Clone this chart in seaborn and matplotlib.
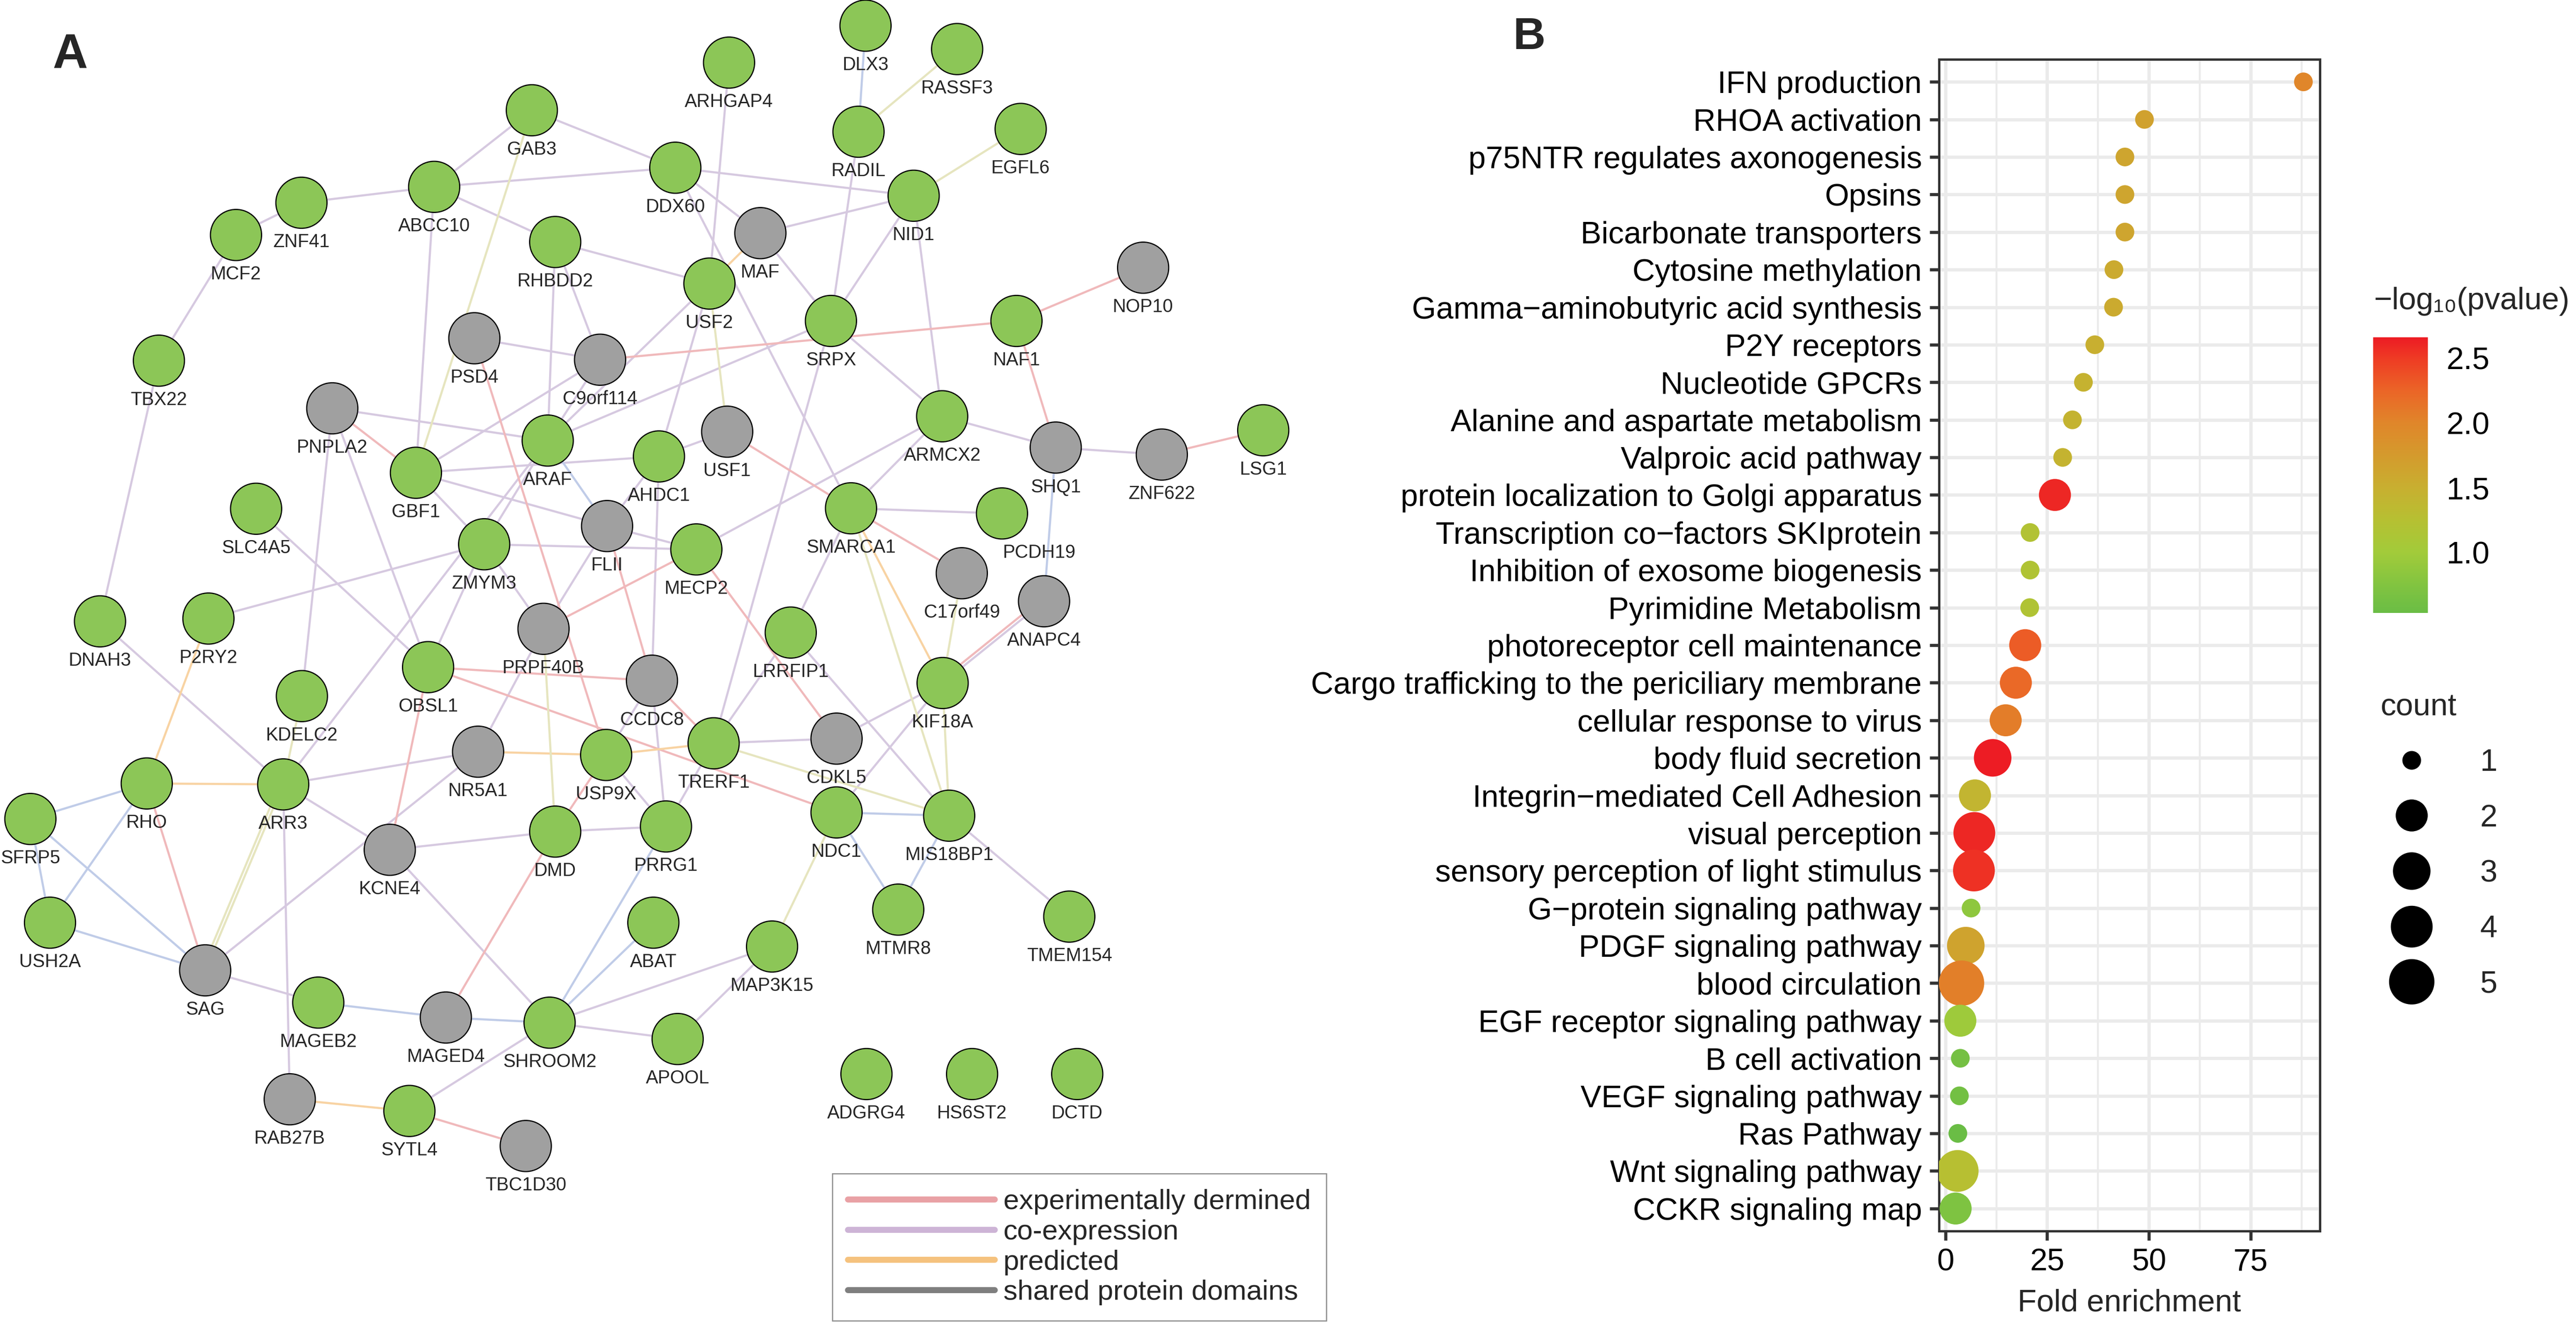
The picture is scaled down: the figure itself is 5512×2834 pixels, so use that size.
import numpy as np
import pandas as pd
import matplotlib
matplotlib.use("Agg")
import matplotlib.pyplot as plt
import seaborn as sns
from matplotlib.colors import LinearSegmentedColormap, Normalize
from matplotlib.cm import ScalarMappable
from matplotlib.lines import Line2D
from matplotlib.collections import LineCollection
from matplotlib.ticker import MultipleLocator

#------------------------------ Panel A: network data ------------------------------#
node_name = ["GAB3", "ABCC10", "ZNF41", "MCF2", "RHBDD2", "TBX22", "ARHGAP4", "DLX3",
             "RASSF3", "RADIL", "EGFL6", "DDX60", "NID1", "USF2", "SRPX", "NAF1",
             "ARMCX2", "LSG1", "GBF1", "ARAF", "SLC4A5", "ZMYM3", "AHDC1", "DNAH3",
             "P2RY2", "OBSL1", "KDELC2", "USP9X", "RHO", "ARR3", "SFRP5", "DMD",
             "PRRG1", "SMARCA1", "PCDH19", "MECP2", "LRRFIP1", "KIF18A", "TRERF1",
             "NDC1", "MIS18BP1", "USH2A", "MAGEB2", "SHROOM2", "ABAT", "APOOL",
             "SYTL4", "MTMR8", "TMEM154", "MAP3K15", "ADGRG4", "HS6ST2", "DCTD",
             "PSD4", "C9orf114", "PNPLA2", "MAF", "NOP10", "SHQ1", "ZNF622", "USF1",
             "FLII", "PRPF40B", "CCDC8", "NR5A1", "KCNE4", "C17orf49", "ANAPC4",
             "CDKL5", "SAG", "MAGED4", "RAB27B", "TBC1D30"]
node_x = [1138, 929, 645, 505, 1188, 340, 1560, 1852,
          2048, 1837, 2184, 1445, 1955, 1518, 1778, 2175,
          2016, 2703, 890, 1172, 548, 1036, 1410, 214,
          446, 916, 646, 1297, 314, 606, 65, 1188,
          1425, 1821, 2144, 1490, 1692, 2017, 1527,
          1790, 2031, 107, 681, 1176, 1398, 1450,
          876, 1922, 2288, 1652, 1854, 2080, 2305,
          1015, 1284, 711, 1627, 2446, 2259, 2486, 1556,
          1299, 1163, 1395, 1023, 834, 2058, 2234,
          1790, 439, 954, 620, 1125]
node_y = [236, 400, 434, 503, 518, 772, 134, 55,
          105, 282, 276, 359, 419, 607, 687, 687,
          891, 921, 1012, 943, 1089, 1165, 977, 1330,
          1324, 1428, 1490, 1616, 1677, 1679, 1753, 1780,
          1769, 1088, 1099, 1176, 1354, 1462, 1591,
          1739, 1746, 1975, 2146, 2189, 1975, 2224,
          2378, 1947, 1962, 2026, 2299, 2299, 2299,
          724, 770, 874, 499, 573, 958, 973, 924,
          1126, 1346, 1457, 1609, 1819, 1227, 1287,
          1581, 2077, 2178, 2353, 2453]
node_kind = ["query"] * 53 + ["related"] * 20

edge_a = ["MCF2", "ZNF41", "ABCC10", "GAB3", "ABCC10", "ABCC10", "ABCC10", "MCF2",
          "TBX22", "RHBDD2", "RHBDD2", "RHBDD2", "PSD4", "C9orf114", "C9orf114",
          "PNPLA2", "PNPLA2", "PNPLA2", "DDX60", "DDX60", "DDX60", "ARHGAP4", "RADIL",
          "NID1", "NID1", "NID1", "MAF", "USF2", "USF2", "SRPX", "SRPX", "SRPX",
          "ARMCX2", "SHQ1", "USF1", "ARMCX2", "ARMCX2", "GBF1", "GBF1", "GBF1",
          "ARAF", "ARAF", "ZMYM3", "ZMYM3", "ZMYM3", "ZMYM3", "FLII", "FLII",
          "PRPF40B", "DNAH3", "SLC4A5", "ARR3", "ARR3", "ARR3", "KCNE4", "KCNE4",
          "SAG", "USP9X", "DMD", "CCDC8", "SMARCA1", "SMARCA1", "ANAPC4", "KIF18A",
          "KIF18A", "LRRFIP1", "LRRFIP1", "TRERF1", "TRERF1", "AHDC1", "CCDC8",
          "MIS18BP1", "MAGEB2", "SHROOM2", "SHROOM2", "SHROOM2", "MAP3K15", "AHDC1",
          "PSD4", "C9orf114", "PNPLA2", "NAF1", "NAF1", "ZNF622", "USF1", "SMARCA1",
          "FLII", "PRPF40B", "OBSL1", "OBSL1", "OBSL1", "RHO", "DMD", "MAGED4",
          "ANAPC4", "MECP2", "CCDC8", "SYTL4",
          "MAF", "P2RY2", "RHO", "NR5A1", "USP9X", "SMARCA1", "RAB27B",
          "GAB3", "RADIL", "NID1", "USF2", "PRPF40B", "KDELC2", "ARR3", "ARR3",
          "SMARCA1", "C17orf49", "KIF18A", "TRERF1", "NDC1", "MAGEB2",
          "DLX3", "SHQ1", "ARAF", "RHO", "RHO", "SFRP5", "SFRP5", "USH2A", "NDC1",
          "NDC1", "MIS18BP1", "SHROOM2", "SHROOM2", "SHROOM2", "MAGEB2"]
edge_b = ["ZNF41", "ABCC10", "GAB3", "DDX60", "DDX60", "RHBDD2", "GBF1", "TBX22",
          "DNAH3", "USF2", "ARAF", "C9orf114", "C9orf114", "ARAF", "GBF1",
          "ARAF", "KDELC2", "OBSL1", "NID1", "MAF", "SMARCA1", "USF2", "SRPX",
          "MAF", "SRPX", "ARMCX2", "SRPX", "ARAF", "AHDC1", "ARAF", "ARMCX2", "TRERF1",
          "SHQ1", "ZNF622", "AHDC1", "MECP2", "SMARCA1", "AHDC1", "FLII", "ZMYM3",
          "ZMYM3", "ARR3", "P2RY2", "MECP2", "PRPF40B", "OBSL1", "PRPF40B", "MECP2",
          "NR5A1", "ARR3", "OBSL1", "NR5A1", "KCNE4", "RAB27B", "DMD", "SHROOM2",
          "NR5A1", "PRRG1", "PRRG1", "USP9X", "PCDH19", "LRRFIP1", "KIF18A", "CDKL5",
          "NDC1", "MIS18BP1", "TRERF1", "CDKL5", "PRRG1", "CCDC8", "PRRG1",
          "TMEM154", "SAG", "MAP3K15", "APOOL", "SYTL4", "APOOL", "FLII",
          "USP9X", "NAF1", "GBF1", "NOP10", "SHQ1", "LSG1", "SMARCA1", "C17orf49",
          "CCDC8", "MECP2", "CCDC8", "NDC1", "KCNE4", "SAG", "USP9X", "DMD",
          "KIF18A", "CDKL5", "TRERF1", "TBC1D30",
          "USF2", "RHO", "ARR3", "USP9X", "TRERF1", "KIF18A", "SYTL4",
          "GBF1", "RASSF3", "EGFL6", "USF1", "DMD", "ARR3", "SAG", "SAG",
          "MIS18BP1", "KIF18A", "MIS18BP1", "MIS18BP1", "MAP3K15", "MAGED4",
          "RADIL", "ANAPC4", "FLII", "SFRP5", "USH2A", "USH2A", "SAG", "SAG", "MIS18BP1",
          "MTMR8", "MTMR8", "PRRG1", "ABAT", "MAGED4", "MAGED4"]
edge_kind = (["coexp"] * 78 + ["exp"] * 20 + ["pred"] * 7 + ["yel"] * 13 + ["blue"] * 15)

edge_colors = {"coexp": "#D6C9E0", "exp": "#F0B9BB", "pred": "#F8D3A3",
               "yel": "#E6E5BF", "blue": "#C0CCE8"}
node_colors = {"query": "#8CC657", "related": "#A0A0A0"}

legend_labels = ["experimentally dermined", "co-expression", "predicted", "shared protein domains"]
legend_colors = ["#E9A1A5", "#CDB4D6", "#F5C27E", "#7F7F7F"]

#------------------------------ Panel B: enrichment data ------------------------------#
terms = ["IFN production", "RHOA activation", "p75NTR regulates axonogenesis", "Opsins",
         "Bicarbonate transporters", "Cytosine methylation",
         "Gamma\u2212aminobutyric acid synthesis", "P2Y receptors", "Nucleotide GPCRs",
         "Alanine and aspartate metabolism", "Valproic acid pathway",
         "protein localization to Golgi apparatus",
         "Transcription co\u2212factors SKIprotein", "Inhibition of exosome biogenesis",
         "Pyrimidine Metabolism", "photoreceptor cell maintenance",
         "Cargo trafficking to the periciliary membrane", "cellular response to virus",
         "body fluid secretion", "Integrin\u2212mediated Cell Adhesion", "visual perception",
         "sensory perception of light stimulus", "G\u2212protein signaling pathway",
         "PDGF signaling pathway", "blood circulation", "EGF receptor signaling pathway",
         "B cell activation", "VEGF signaling pathway", "Ras Pathway",
         "Wnt signaling pathway", "CCKR signaling map"]
fold = [87.95, 48.9, 44.1, 44.1, 44.1, 41.4, 41.3, 36.7, 33.9, 31.2, 28.8, 26.9,
        20.8, 20.8, 20.7, 19.6, 17.3, 14.8, 11.6, 7.25, 7.1, 7.0, 6.3, 5.0, 3.95,
        3.66, 3.66, 3.43, 3.05, 3.0, 2.5]
counts = [1, 1, 1, 1, 1, 1, 1, 1, 1, 1, 1, 2, 1, 1, 1, 2, 2, 2, 3, 2, 4, 4, 1, 3, 5,
          2, 1, 1, 1, 4, 2]
logp = [2.0, 1.68, 1.62, 1.62, 1.62, 1.56, 1.56, 1.5, 1.46, 1.44, 1.44, 2.6,
        1.2, 1.18, 1.18, 2.3, 2.22, 2.07, 2.66, 1.42, 2.6, 2.55, 0.85, 1.65, 2.05,
        0.97, 0.64, 0.62, 0.535, 1.27, 0.72]

cbar_ticks = [1.0, 1.5, 2.0, 2.5]
count_levels = [1, 2, 3, 4, 5]

#------------------------------ figure ------------------------------#
sns.set_style("white")
plt.rcParams["font.family"] = ["Liberation Sans", "DejaVu Sans"]

W, H = 5512, 2834
fig = plt.figure(figsize=(W / 300, H / 300), dpi=300)

# ---- panel A ----
ax_a = fig.add_axes([0, 0, 2900 / W, 1])
pos = {n: (x, y) for n, x, y in zip(node_name, node_x, node_y)}

segs, cols = [], []
seen = {}
for a, b, k in zip(edge_a, edge_b, edge_kind):
    (x0, y0), (x1, y1) = pos[a], pos[b]
    key = tuple(sorted((a, b)))
    n = seen.get(key, 0)
    seen[key] = n + 1
    off = 0.0 if n == 0 else 7.0 * n   # parallel edges drawn side by side
    d = np.hypot(x1 - x0, y1 - y0)
    nx, ny = -(y1 - y0) / d * off, (x1 - x0) / d * off
    segs.append([(x0 + nx, y0 + ny), (x1 + nx, y1 + ny)])
    cols.append(edge_colors[k])
ax_a.add_collection(LineCollection(segs, colors=cols, linewidths=1.1, zorder=1))

nodes = pd.DataFrame({"name": node_name, "x": node_x, "y": node_y, "kind": node_kind})
sns.scatterplot(data=nodes, x="x", y="y", hue="kind", palette=node_colors, s=690,
                edgecolor="black", linewidth=0.6, legend=False, ax=ax_a, zorder=2)

label_shift = {"PCDH19": 80}
for n, x, y in zip(node_name, node_x, node_y):
    ax_a.text(x + label_shift.get(n, 0), y + 84, n, ha="center", va="center",
              fontsize=9.5, zorder=3)

ax_a.set_xlim(0, 2900)
ax_a.set_ylim(H, 0)
ax_a.axis("off")

handles = [Line2D([0], [0], color=c, lw=3.1) for c in legend_colors]
leg = ax_a.legend(handles, legend_labels, loc="upper left", bbox_to_anchor=(1781, 2512),
                  bbox_transform=ax_a.transData, fontsize=14.5, frameon=True, fancybox=False,
                  edgecolor="#8C8C8C", framealpha=1, borderaxespad=0, borderpad=0.55,
                  labelspacing=0.16, handlelength=5.2, handletextpad=0.3)
leg.get_frame().set_linewidth(0.6)

fig.text(112 / W, 1 - 145 / H, "A", fontsize=25, fontweight="bold", va="baseline")

# ---- panel B ----
lo, hi = 0.535, 2.66
stops = [(lo, "#6ABD45"), (0.75, "#82C440"), (1.0, "#A2CB3A"), (1.25, "#B6C032"),
         (1.5, "#C8AF30"), (2.0, "#E0862A"), (2.25, "#EB6527"), (2.5, "#EE3B24"),
         (hi, "#ED1C24")]
cmap = LinearSegmentedColormap.from_list("pv", [((v - lo) / (hi - lo), c) for v, c in stops])
norm = Normalize(lo, hi)

d1, d5 = 9.6, 23.3
diam = {c: d1 + (d5 - d1) * np.sqrt((c - 1) / 4) for c in count_levels}
size_map = {c: diam[c] ** 2 for c in count_levels}

df = pd.DataFrame({"term": terms, "fold": fold, "count": counts, "logp": logp})
ax_b = fig.add_axes([4149 / W, 1 - 2635 / H, (4964 - 4149) / W, (2635 - 127) / H])
sns.scatterplot(data=df, x="fold", y="term", hue="logp", hue_norm=norm, palette=cmap,
                size="count", sizes=size_map, linewidth=0, legend=False, ax=ax_b, zorder=3)

ax_b.set_xlim(-1.58, 92.0)
ax_b.set_ylim(len(terms) - 0.4, -0.6)
ax_b.set_xticks([0, 25, 50, 75])
ax_b.xaxis.set_minor_locator(MultipleLocator(12.5))
ax_b.set_axisbelow(True)
ax_b.grid(which="major", color="#EBEBEB", lw=1.7)
ax_b.grid(which="minor", axis="x", color="#EBEBEB", lw=1.0)
for s in ax_b.spines.values():
    s.set_visible(True)
    s.set_color("#333333")
    s.set_linewidth(1.2)
ax_b.tick_params(which="major", length=4.8, width=1.6, color="#333333", labelsize=16,
                 pad=4, labelcolor="black", left=True, bottom=True)
ax_b.tick_params(which="minor", length=0)
ax_b.set_xlabel("Fold enrichment", fontsize=16, labelpad=6)
ax_b.set_ylabel("")

fig.text(3238 / W, 1 - 105 / H, "B", fontsize=23, fontweight="bold", va="baseline")

# colour bar
cax = fig.add_axes([5078 / W, 1 - 1312 / H, 117 / W, 590 / H])
cb = fig.colorbar(ScalarMappable(norm=norm, cmap=cmap), cax=cax)
cb.outline.set_visible(False)
cb.set_ticks(cbar_ticks)
cax.tick_params(direction="in", length=5.8, width=0.6, color="white", left=True,
                right=True, labelsize=16, pad=9.6, labelcolor="black")
fig.text(5080 / W, 1 - 645 / H, "\u2212log\u2081\u2080(pvalue)", fontsize=16,
         ha="left", va="center")

# size legend
size_handles = [Line2D([], [], marker="o", ls="", color="black", markeredgewidth=0,
                       markersize=diam[c]) for c in count_levels]
fig.legend(size_handles, [str(c) for c in count_levels], title="count", loc="upper left",
           bbox_to_anchor=(5060 / W, 1 - 1450 / H), frameon=False, fontsize=16,
           title_fontsize=16, alignment="left", handletextpad=1.2, labelspacing=0.85,
           borderpad=0, handlelength=2.0)

fig.savefig("out.png", dpi=300)
